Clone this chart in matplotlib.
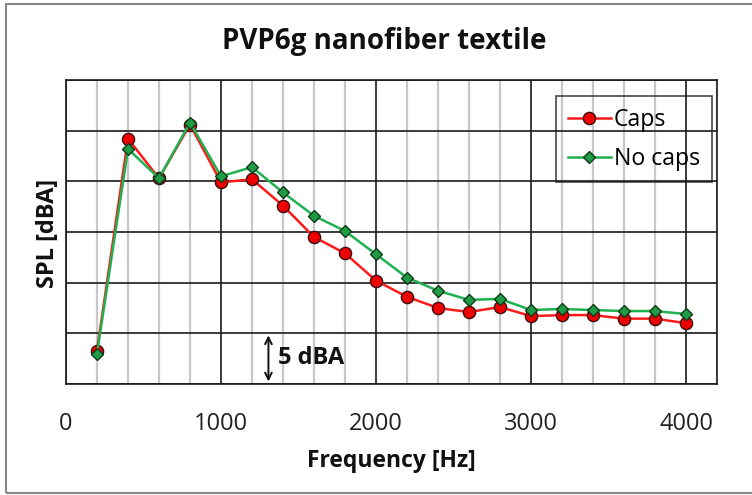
import matplotlib
matplotlib.use("Agg")
import matplotlib.pyplot as plt
from matplotlib.patches import Rectangle
from matplotlib.ticker import MultipleLocator

freq = [200, 400, 600, 800, 1000, 1200, 1400, 1600, 1800, 2000,
        2200, 2400, 2600, 2800, 3000, 3200, 3400, 3600, 3800, 4000]
caps = [3.3, 24.2, 20.3, 25.6, 19.9, 20.2, 17.6, 14.5, 12.9, 10.2,
        8.6, 7.5, 7.1, 7.6, 6.7, 6.8, 6.8, 6.45, 6.45, 6.0]
no_caps = [3.0, 23.2, 20.3, 25.8, 20.5, 21.4, 18.9, 16.6, 15.1, 12.8,
           10.5, 9.2, 8.3, 8.4, 7.3, 7.4, 7.3, 7.2, 7.2, 6.9]
xticks = [0, 1000, 2000, 3000, 4000]
title = "PVP6g nanofiber textile"
xlabel = "Frequency [Hz]"
ylabel = "SPL [dBA]"
scale_label = "5 dBA"

plt.rcParams['font.family'] = ['Open Sans', 'DejaVu Sans']

fig = plt.figure(figsize=(7.52, 4.95), dpi=100)
W, H = 752, 495
ax = fig.add_axes([66 / W, 1 - 384 / H, (717 - 66) / W, (384 - 80) / H])

ax.set_xlim(0, 4200)
ax.set_ylim(0, 30)
ax.xaxis.set_major_locator(MultipleLocator(1000))
ax.xaxis.set_minor_locator(MultipleLocator(200))
ax.yaxis.set_major_locator(MultipleLocator(5))
ax.grid(which='minor', axis='x', color='#c8c8c8', lw=1.6, zorder=0)
ax.grid(which='major', axis='both', color='#1a1a1a', lw=1.2, zorder=1)
ax.set_axisbelow(True)
ax.set_xticks(xticks)
ax.set_xticklabels([str(v) for v in xticks])
ax.tick_params(axis='x', which='both', length=0, pad=20, labelsize=17, labelcolor='#222222')
ax.tick_params(axis='y', which='both', length=0, labelleft=False)
for s in ax.spines.values():
    s.set_color('#1a1a1a')
    s.set_linewidth(1.2)

ax.plot(freq, caps, color='#ff1a1a', lw=1.8, marker='o', ms=8.8,
        mfc='#ee0000', mec='#3a1010', mew=1.0, label='Caps', zorder=3)
ax.plot(freq, no_caps, color='#1fb050', lw=1.8, marker='D', ms=6.6,
        mfc='#1f9a45', mec='#103a18', mew=1.0, label='No caps', zorder=4)

leg = ax.legend(loc='upper right', bbox_to_anchor=(0.992, 0.947), fontsize=16.7,
                frameon=True, fancybox=False, edgecolor='#1a1a1a',
                handlelength=1.85, handletextpad=0.15, borderpad=0.5,
                labelspacing=0.65, borderaxespad=0)
leg.get_frame().set_facecolor('none')
leg.get_frame().set_linewidth(1.2)

ax.annotate('', xy=(1306, 0.25), xytext=(1306, 4.8),
            arrowprops=dict(arrowstyle='<->', color='#111111', lw=1.4,
                            shrinkA=0, shrinkB=0, mutation_scale=12))
ax.text(1365, 2.6, scale_label, fontsize=17, fontweight='bold',
        va='center', ha='left', color='#111111')

fig.text(384 / W, 1 - 42 / H, title, fontsize=20, fontweight='bold',
         ha='center', va='center', color='#111111')
fig.text(391 / W, 1 - 461 / H, xlabel, fontsize=16.5, fontweight='bold',
         ha='center', va='center', color='#111111')
fig.text(48 / W, 1 - 233 / H, ylabel, fontsize=17, fontweight='bold',
         ha='center', va='center', rotation=90, color='#111111')

fig.patches.append(Rectangle((6 / W, 2 / H), 1.0, (491 - 2) / H,
                             transform=fig.transFigure, fill=False,
                             edgecolor='#888888', lw=1.5))

fig.savefig('out.png', dpi=100)
